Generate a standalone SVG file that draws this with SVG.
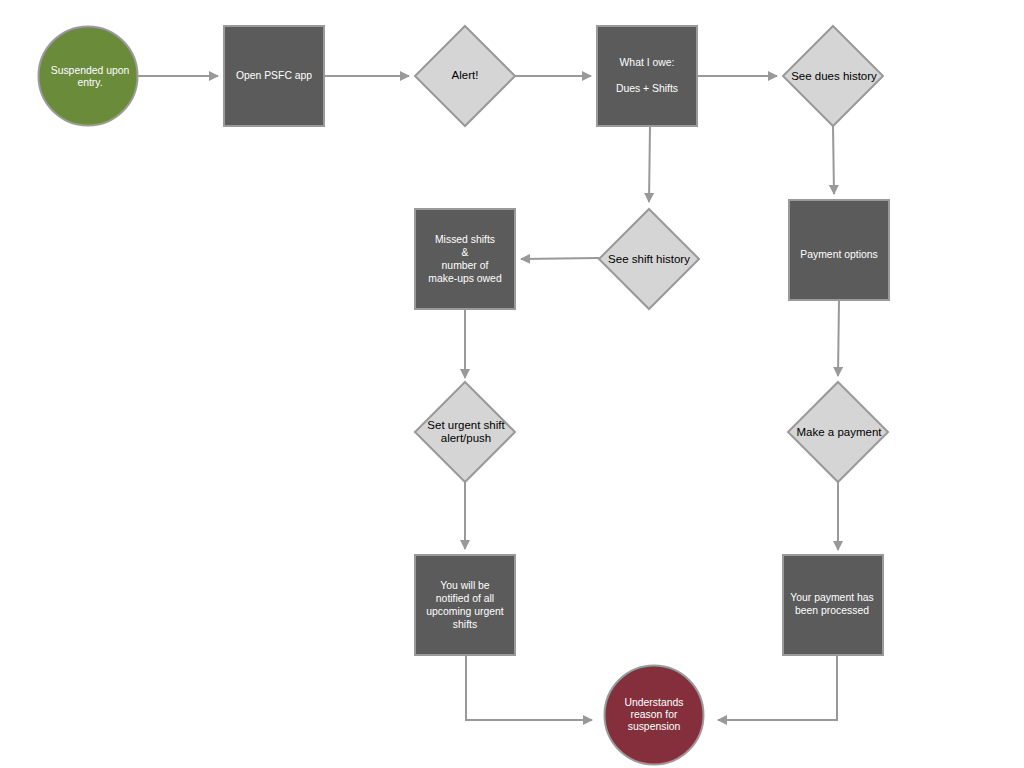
<svg xmlns="http://www.w3.org/2000/svg" width="1024" height="768" viewBox="0 0 1024 768">
<defs>
<style>
.rect{fill:#5b5b5b;stroke:#9a9a9a;stroke-width:2}
.dia{fill:#d5d5d5;stroke:#999;stroke-width:2}
.wt{fill:#fff;font-family:"Liberation Sans",Arial,sans-serif;font-size:10.4px;text-anchor:middle}
.bt{fill:#000;font-family:"Liberation Sans",Arial,sans-serif;font-size:11.5px;text-anchor:middle}
.con{fill:none;stroke:#999;stroke-width:2;marker-end:url(#ah)}
</style>
<marker id="ah" viewBox="0 0 10 10" refX="9" refY="5" markerWidth="5" markerHeight="5" orient="auto" markerUnits="strokeWidth">
<path d="M0,0 L10,5 L0,10 z" fill="#999"/>
</marker>
</defs>
<rect width="1024" height="768" fill="#fff"/>
<g id="connectors">
<path class="con" d="M138,76 H218"/>
<path class="con" d="M324,76 H409"/>
<path class="con" d="M515,76 H591"/>
<path class="con" d="M697,76 H777"/>
<path class="con" d="M833,126 L834,194"/>
<path class="con" d="M839,300 L838,376"/>
<path class="con" d="M838,482 V550"/>
<path class="con" d="M837,655 V720 H718"/>
<path class="con" d="M650,126 L649,202"/>
<path class="con" d="M599,258 L521,259"/>
<path class="con" d="M465,309 V378"/>
<path class="con" d="M465,482 V549"/>
<path class="con" d="M466,655 V720 H592"/>
</g>
<g id="n-suspended">
<circle cx="88" cy="76" r="49.5" fill="#6a8b3a" stroke="#9a9a9a" stroke-width="2"/>
<text class="wt" x="90" y="74">Suspended upon</text>
<text class="wt" x="90" y="86">entry.</text>
</g>
<g id="n-open">
<rect class="rect" x="224" y="26" width="100" height="100"/>
<text class="wt" x="274" y="79">Open PSFC app</text>
</g>
<g id="n-alert">
<polygon class="dia" points="465,26 515,76 465,126 415,76"/>
<text class="bt" x="465" y="79">Alert!</text>
</g>
<g id="n-owe">
<rect class="rect" x="597" y="26" width="100" height="100"/>
<text class="wt" x="647" y="66">What I owe:</text>
<text class="wt" x="647" y="92">Dues + Shifts</text>
</g>
<g id="n-dues">
<polygon class="dia" points="833,26 883,76 833,126 783,76"/>
<text class="bt" x="834" y="80">See dues history</text>
</g>
<g id="n-payopt">
<rect class="rect" x="789" y="200" width="100" height="100"/>
<text class="wt" x="839" y="258">Payment options</text>
</g>
<g id="n-makepay">
<polygon class="dia" points="838,382 888,432 838,482 788,432"/>
<text class="bt" x="839" y="436">Make a payment</text>
</g>
<g id="n-processed">
<rect class="rect" x="783" y="555" width="100" height="100"/>
<text class="wt" x="832" y="601">Your payment has</text>
<text class="wt" x="832" y="614">been processed</text>
</g>
<g id="n-shift">
<polygon class="dia" points="649,209 699,259 649,309 599,259"/>
<text class="bt" x="649" y="263">See shift history</text>
</g>
<g id="n-missed">
<rect class="rect" x="415" y="209" width="100" height="100"/>
<text class="wt" x="465" y="243">Missed shifts</text>
<text class="wt" x="465" y="256">&amp;</text>
<text class="wt" x="465" y="269">number of</text>
<text class="wt" x="465" y="282">make-ups owed</text>
</g>
<g id="n-urgent">
<polygon class="dia" points="465,382 515,432 465,482 415,432"/>
<text class="bt" x="466" y="429">Set urgent shift</text>
<text class="bt" x="466" y="442">alert/push</text>
</g>
<g id="n-notified">
<rect class="rect" x="415" y="555" width="100" height="100"/>
<text class="wt" x="465" y="589">You will be</text>
<text class="wt" x="465" y="602">notified of all</text>
<text class="wt" x="465" y="615">upcoming urgent</text>
<text class="wt" x="465" y="628">shifts</text>
</g>
<g id="n-understands">
<circle cx="654" cy="715" r="49.5" fill="#862f3c" stroke="#9a9a9a" stroke-width="2"/>
<text class="wt" x="654" y="706">Understands</text>
<text class="wt" x="654" y="718">reason for</text>
<text class="wt" x="654" y="730">suspension</text>
</g>
</svg>
